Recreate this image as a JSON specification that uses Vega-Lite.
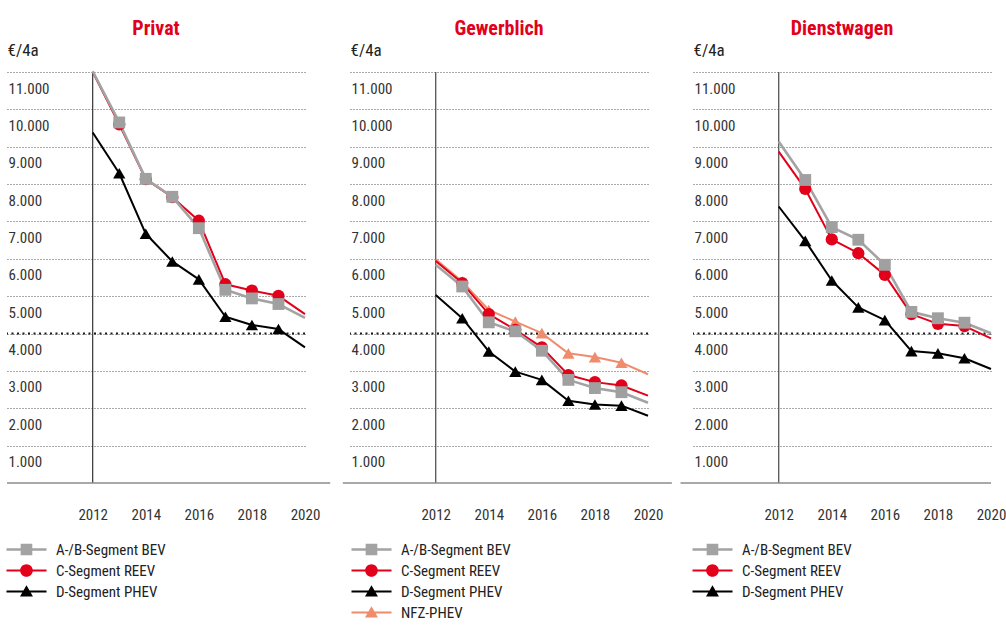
{
  "$schema": "https://vega.github.io/schema/vega-lite/v6.json",
  "padding": {"left": 5, "top": 18, "right": 5, "bottom": 5},
  "background": "white",
  "datasets": {
    "d": [
      {"panel":"Privat","series":"C-Segment REEV","year":2012,"value":11000},{"panel":"Privat","series":"C-Segment REEV","year":2013,"value":9600},{"panel":"Privat","series":"C-Segment REEV","year":2014,"value":8130},{"panel":"Privat","series":"C-Segment REEV","year":2015,"value":7650},{"panel":"Privat","series":"C-Segment REEV","year":2016,"value":7020},{"panel":"Privat","series":"C-Segment REEV","year":2017,"value":5320},{"panel":"Privat","series":"C-Segment REEV","year":2018,"value":5150},{"panel":"Privat","series":"C-Segment REEV","year":2019,"value":5010},{"panel":"Privat","series":"C-Segment REEV","year":2020,"value":4520},
      {"panel":"Privat","series":"A-/B-Segment BEV","year":2012,"value":11020},{"panel":"Privat","series":"A-/B-Segment BEV","year":2013,"value":9650},{"panel":"Privat","series":"A-/B-Segment BEV","year":2014,"value":8140},{"panel":"Privat","series":"A-/B-Segment BEV","year":2015,"value":7660},{"panel":"Privat","series":"A-/B-Segment BEV","year":2016,"value":6820},{"panel":"Privat","series":"A-/B-Segment BEV","year":2017,"value":5170},{"panel":"Privat","series":"A-/B-Segment BEV","year":2018,"value":4940},{"panel":"Privat","series":"A-/B-Segment BEV","year":2019,"value":4790},{"panel":"Privat","series":"A-/B-Segment BEV","year":2020,"value":4420},
      {"panel":"Privat","series":"D-Segment PHEV","year":2012,"value":9380},{"panel":"Privat","series":"D-Segment PHEV","year":2013,"value":8290},{"panel":"Privat","series":"D-Segment PHEV","year":2014,"value":6670},{"panel":"Privat","series":"D-Segment PHEV","year":2015,"value":5930},{"panel":"Privat","series":"D-Segment PHEV","year":2016,"value":5450},{"panel":"Privat","series":"D-Segment PHEV","year":2017,"value":4450},{"panel":"Privat","series":"D-Segment PHEV","year":2018,"value":4230},{"panel":"Privat","series":"D-Segment PHEV","year":2019,"value":4120},{"panel":"Privat","series":"D-Segment PHEV","year":2020,"value":3630},
      {"panel":"Gewerblich","series":"NFZ-PHEV","year":2012,"value":5990},{"panel":"Gewerblich","series":"NFZ-PHEV","year":2013,"value":5390},{"panel":"Gewerblich","series":"NFZ-PHEV","year":2014,"value":4630},{"panel":"Gewerblich","series":"NFZ-PHEV","year":2015,"value":4320},{"panel":"Gewerblich","series":"NFZ-PHEV","year":2016,"value":4010},{"panel":"Gewerblich","series":"NFZ-PHEV","year":2017,"value":3470},{"panel":"Gewerblich","series":"NFZ-PHEV","year":2018,"value":3370},{"panel":"Gewerblich","series":"NFZ-PHEV","year":2019,"value":3220},{"panel":"Gewerblich","series":"NFZ-PHEV","year":2020,"value":2910},
      {"panel":"Gewerblich","series":"C-Segment REEV","year":2012,"value":5940},{"panel":"Gewerblich","series":"C-Segment REEV","year":2013,"value":5350},{"panel":"Gewerblich","series":"C-Segment REEV","year":2014,"value":4520},{"panel":"Gewerblich","series":"C-Segment REEV","year":2015,"value":4100},{"panel":"Gewerblich","series":"C-Segment REEV","year":2016,"value":3630},{"panel":"Gewerblich","series":"C-Segment REEV","year":2017,"value":2890},{"panel":"Gewerblich","series":"C-Segment REEV","year":2018,"value":2700},{"panel":"Gewerblich","series":"C-Segment REEV","year":2019,"value":2610},{"panel":"Gewerblich","series":"C-Segment REEV","year":2020,"value":2340},
      {"panel":"Gewerblich","series":"A-/B-Segment BEV","year":2012,"value":5840},{"panel":"Gewerblich","series":"A-/B-Segment BEV","year":2013,"value":5260},{"panel":"Gewerblich","series":"A-/B-Segment BEV","year":2014,"value":4300},{"panel":"Gewerblich","series":"A-/B-Segment BEV","year":2015,"value":4060},{"panel":"Gewerblich","series":"A-/B-Segment BEV","year":2016,"value":3540},{"panel":"Gewerblich","series":"A-/B-Segment BEV","year":2017,"value":2760},{"panel":"Gewerblich","series":"A-/B-Segment BEV","year":2018,"value":2540},{"panel":"Gewerblich","series":"A-/B-Segment BEV","year":2019,"value":2430},{"panel":"Gewerblich","series":"A-/B-Segment BEV","year":2020,"value":2150},
      {"panel":"Gewerblich","series":"D-Segment PHEV","year":2012,"value":5030},{"panel":"Gewerblich","series":"D-Segment PHEV","year":2013,"value":4410},{"panel":"Gewerblich","series":"D-Segment PHEV","year":2014,"value":3520},{"panel":"Gewerblich","series":"D-Segment PHEV","year":2015,"value":2980},{"panel":"Gewerblich","series":"D-Segment PHEV","year":2016,"value":2760},{"panel":"Gewerblich","series":"D-Segment PHEV","year":2017,"value":2200},{"panel":"Gewerblich","series":"D-Segment PHEV","year":2018,"value":2100},{"panel":"Gewerblich","series":"D-Segment PHEV","year":2019,"value":2070},{"panel":"Gewerblich","series":"D-Segment PHEV","year":2020,"value":1800},
      {"panel":"Dienstwagen","series":"C-Segment REEV","year":2012,"value":8870},{"panel":"Dienstwagen","series":"C-Segment REEV","year":2013,"value":7870},{"panel":"Dienstwagen","series":"C-Segment REEV","year":2014,"value":6520},{"panel":"Dienstwagen","series":"C-Segment REEV","year":2015,"value":6150},{"panel":"Dienstwagen","series":"C-Segment REEV","year":2016,"value":5570},{"panel":"Dienstwagen","series":"C-Segment REEV","year":2017,"value":4520},{"panel":"Dienstwagen","series":"C-Segment REEV","year":2018,"value":4260},{"panel":"Dienstwagen","series":"C-Segment REEV","year":2019,"value":4200},{"panel":"Dienstwagen","series":"C-Segment REEV","year":2020,"value":3870},
      {"panel":"Dienstwagen","series":"A-/B-Segment BEV","year":2012,"value":9140},{"panel":"Dienstwagen","series":"A-/B-Segment BEV","year":2013,"value":8110},{"panel":"Dienstwagen","series":"A-/B-Segment BEV","year":2014,"value":6850},{"panel":"Dienstwagen","series":"A-/B-Segment BEV","year":2015,"value":6510},{"panel":"Dienstwagen","series":"A-/B-Segment BEV","year":2016,"value":5840},{"panel":"Dienstwagen","series":"A-/B-Segment BEV","year":2017,"value":4580},{"panel":"Dienstwagen","series":"A-/B-Segment BEV","year":2018,"value":4410},{"panel":"Dienstwagen","series":"A-/B-Segment BEV","year":2019,"value":4290},{"panel":"Dienstwagen","series":"A-/B-Segment BEV","year":2020,"value":4010},
      {"panel":"Dienstwagen","series":"D-Segment PHEV","year":2012,"value":7400},{"panel":"Dienstwagen","series":"D-Segment PHEV","year":2013,"value":6480},{"panel":"Dienstwagen","series":"D-Segment PHEV","year":2014,"value":5420},{"panel":"Dienstwagen","series":"D-Segment PHEV","year":2015,"value":4700},{"panel":"Dienstwagen","series":"D-Segment PHEV","year":2016,"value":4360},{"panel":"Dienstwagen","series":"D-Segment PHEV","year":2017,"value":3530},{"panel":"Dienstwagen","series":"D-Segment PHEV","year":2018,"value":3470},{"panel":"Dienstwagen","series":"D-Segment PHEV","year":2019,"value":3340},{"panel":"Dienstwagen","series":"D-Segment PHEV","year":2020,"value":3050}
    ]
  },
  "data": {"name": "d"},
  "spacing": 45,
  "bounds": "flush",
  "resolve": {
    "scale": {"x": "independent", "y": "independent", "color": "independent", "shape": "independent"},
    "legend": {"color": "independent", "shape": "independent"}
  },
  "config": {
    "view": {"stroke": null},
    "font": "Roboto Condensed, Roboto, sans-serif",
    "title": {"fontSize": 20, "fontWeight": "bold", "color": "#e2001a", "anchor": "middle", "frame": "group", "offset": 2.5},
    "axisX": {"format": "d", "title": null, "domain": false, "ticks": false, "tickSize": 0, "grid": false, "labelPadding": 24, "labelBaseline": "top", "labelFlush": false, "labelFontSize": 15, "labelColor": "#333", "labelOverlap": false},
    "axisY": {"labelExpr": "floor(datum.value/1000) + '.000'", "titleAngle": 0, "titleAlign": "left", "titleBaseline": "alphabetic", "titleX": 0, "titleY": -17, "titleFontSize": 17, "titleFontWeight": "normal", "titleColor": "#222", "domain": false, "ticks": false, "tickSize": 0, "grid": true, "gridDash": [1, 2], "gridColor": "#555", "gridWidth": 1, "labelAlign": "left", "labelBaseline": "middle", "labelPadding": -1, "labelOffset": 16, "labelFontSize": 15, "labelColor": "#333", "labelOverlap": false},
    "legend": {"orient": "none", "legendY": 470, "title": null, "symbolSize": 144, "symbolOpacity": 1, "symbolStrokeWidth": 0, "labelFontSize": 15, "labelColor": "#222", "labelOffset": 36, "rowPadding": 5}
  },
  "hconcat": [
    {
      "title": {"text": "Privat"},
      "width": 298, "height": 411,
      "transform": [{"filter": "datum.panel === 'Privat'"}],
      "layer": [
        {"data": {"values": [{}]}, "mark": {"type": "rule", "color": "#1a1a1a", "strokeWidth": 2, "strokeDash": [2, 3.5]},
         "encoding": {"y": {"datum": 4000, "type": "quantitative", "scale": {"domain": [0, 11000], "nice": false}}}},
        {"data": {"values": [{}]}, "mark": {"type": "rule", "color": "#222", "strokeWidth": 1.1},
         "encoding": {"x": {"datum": 2012, "type": "quantitative", "scale": {"domain": [2008.77, 2020], "nice": false, "zero": false}},
                      "y": {"datum": 0, "type": "quantitative", "scale": {"domain": [0, 11000], "nice": false}}, "y2": {"datum": 11000}}},
        {"data": {"values": [{}]}, "mark": {"type": "rule", "color": "#8c8c8c", "strokeWidth": 1.6},
         "encoding": {"x": {"datum": 2008.77, "type": "quantitative", "scale": {"domain": [2008.77, 2020], "nice": false, "zero": false}}, "x2": {"datum": 2020.95},
                      "y": {"datum": 0, "type": "quantitative", "scale": {"domain": [0, 11000], "nice": false}}}},
        {"mark": {"type": "line", "strokeJoin": "round"},
         "encoding": {
           "x": {"field": "year", "type": "quantitative", "scale": {"domain": [2008.77, 2020], "nice": false, "zero": false}, "axis": {"title": null, "values": [2012, 2014, 2016, 2018, 2020]}},
           "y": {"field": "value", "type": "quantitative", "scale": {"domain": [0, 11000], "nice": false}, "axis": {"title": "€/4a", "values": [1000, 2000, 3000, 4000, 5000, 6000, 7000, 8000, 9000, 10000, 11000]}},
           "detail": {"field": "series"},
           "color": {"condition": [{"test": "datum.series === 'A-/B-Segment BEV'", "value": "#a3a3a3"}, {"test": "datum.series === 'C-Segment REEV'", "value": "#e2001a"}, {"test": "datum.series === 'NFZ-PHEV'", "value": "#f08c6c"}], "value": "#000000"},
           "strokeWidth": {"condition": {"test": "datum.series === 'A-/B-Segment BEV'", "value": 2.6}, "value": 2}
         }},
        {"transform": [{"filter": "datum.year >= 2013 && datum.year <= 2019 && (datum.series === 'D-Segment PHEV' || datum.series === 'NFZ-PHEV')"}],
         "mark": {"type": "point", "shape": "triangle-up", "filled": true, "size": 150, "opacity": 1},
         "encoding": {"x": {"field": "year", "type": "quantitative"}, "y": {"field": "value", "type": "quantitative"},
                      "color": {"condition": {"test": "datum.series === 'NFZ-PHEV'", "value": "#f08c6c"}, "value": "#000000"}}},
        {"transform": [{"filter": "datum.year >= 2013 && datum.year <= 2019 && datum.series === 'C-Segment REEV'"}],
         "mark": {"type": "point", "shape": "circle", "filled": true, "size": 150, "opacity": 1, "color": "#e2001a"},
         "encoding": {"x": {"field": "year", "type": "quantitative"}, "y": {"field": "value", "type": "quantitative"}}},
        {"transform": [{"filter": "datum.year >= 2013 && datum.year <= 2019 && datum.series === 'A-/B-Segment BEV'"}],
         "mark": {"type": "point", "shape": "square", "filled": true, "size": 140, "opacity": 1, "color": "#a0a0a0"},
         "encoding": {"x": {"field": "year", "type": "quantitative"}, "y": {"field": "value", "type": "quantitative"}}},
        {"mark": {"type": "point", "filled": true, "opacity": 0},
         "encoding": {"x": {"field": "year", "type": "quantitative"}, "y": {"field": "value", "type": "quantitative"},
                      "color": {"field": "series", "type": "nominal", "scale": {"domain": ["A-/B-Segment BEV", "C-Segment REEV", "D-Segment PHEV"], "range": ["#a3a3a3", "#e2001a", "#000000"]}, "legend": {"legendX": -2}},
                      "shape": {"field": "series", "type": "nominal", "scale": {"domain": ["A-/B-Segment BEV", "C-Segment REEV", "D-Segment PHEV"], "range": ["M-1,-0.19H5.67V0.19H-1Z M1.36,-0.97H3.3V0.97H1.36Z", "M-1,-0.17H5.67V0.17H-1Z M3.38,0A1.05,1.05 0 1,1 1.28,0A1.05,1.05 0 1,1 3.38,0Z", "M-1,-0.17H5.67V0.17H-1Z M2.33,-1.05L3.41,0.82H1.25Z"]}, "legend": {"legendX": -2}}}}
      ]
    },
    {
      "title": {"text": "Gewerblich"},
      "width": 298, "height": 411,
      "transform": [{"filter": "datum.panel === 'Gewerblich'"}],
      "layer": [
        {"data": {"values": [{}]}, "mark": {"type": "rule", "color": "#1a1a1a", "strokeWidth": 2, "strokeDash": [2, 3.5]},
         "encoding": {"y": {"datum": 4000, "type": "quantitative", "scale": {"domain": [0, 11000], "nice": false}}}},
        {"data": {"values": [{}]}, "mark": {"type": "rule", "color": "#555", "strokeWidth": 1.3},
         "encoding": {"x": {"datum": 2012, "type": "quantitative", "scale": {"domain": [2008.77, 2020], "nice": false, "zero": false}},
                      "y": {"datum": 0, "type": "quantitative", "scale": {"domain": [0, 11000], "nice": false}}, "y2": {"datum": 11000}}},
        {"data": {"values": [{}]}, "mark": {"type": "rule", "color": "#8c8c8c", "strokeWidth": 1.6},
         "encoding": {"x": {"datum": 2008.5, "type": "quantitative", "scale": {"domain": [2008.77, 2020], "nice": false, "zero": false}}, "x2": {"datum": 2020.9},
                      "y": {"datum": 0, "type": "quantitative", "scale": {"domain": [0, 11000], "nice": false}}}},
        {"mark": {"type": "line", "strokeJoin": "round"},
         "encoding": {
           "x": {"field": "year", "type": "quantitative", "scale": {"domain": [2008.77, 2020], "nice": false, "zero": false}, "axis": {"title": null, "values": [2012, 2014, 2016, 2018, 2020]}},
           "y": {"field": "value", "type": "quantitative", "scale": {"domain": [0, 11000], "nice": false}, "axis": {"title": "€/4a", "values": [1000, 2000, 3000, 4000, 5000, 6000, 7000, 8000, 9000, 10000, 11000]}},
           "detail": {"field": "series"},
           "color": {"condition": [{"test": "datum.series === 'A-/B-Segment BEV'", "value": "#a3a3a3"}, {"test": "datum.series === 'C-Segment REEV'", "value": "#e2001a"}, {"test": "datum.series === 'NFZ-PHEV'", "value": "#f08c6c"}], "value": "#000000"},
           "strokeWidth": {"condition": {"test": "datum.series === 'A-/B-Segment BEV'", "value": 2.6}, "value": 2}
         }},
        {"transform": [{"filter": "datum.year >= 2013 && datum.year <= 2019 && (datum.series === 'D-Segment PHEV' || datum.series === 'NFZ-PHEV')"}],
         "mark": {"type": "point", "shape": "triangle-up", "filled": true, "size": 150, "opacity": 1},
         "encoding": {"x": {"field": "year", "type": "quantitative"}, "y": {"field": "value", "type": "quantitative"},
                      "color": {"condition": {"test": "datum.series === 'NFZ-PHEV'", "value": "#f08c6c"}, "value": "#000000"}}},
        {"transform": [{"filter": "datum.year >= 2013 && datum.year <= 2019 && datum.series === 'C-Segment REEV'"}],
         "mark": {"type": "point", "shape": "circle", "filled": true, "size": 150, "opacity": 1, "color": "#e2001a"},
         "encoding": {"x": {"field": "year", "type": "quantitative"}, "y": {"field": "value", "type": "quantitative"}}},
        {"transform": [{"filter": "datum.year >= 2013 && datum.year <= 2019 && datum.series === 'A-/B-Segment BEV'"}],
         "mark": {"type": "point", "shape": "square", "filled": true, "size": 140, "opacity": 1, "color": "#a0a0a0"},
         "encoding": {"x": {"field": "year", "type": "quantitative"}, "y": {"field": "value", "type": "quantitative"}}},
        {"mark": {"type": "point", "filled": true, "opacity": 0},
         "encoding": {"x": {"field": "year", "type": "quantitative"}, "y": {"field": "value", "type": "quantitative"},
                      "color": {"field": "series", "type": "nominal", "scale": {"domain": ["A-/B-Segment BEV", "C-Segment REEV", "D-Segment PHEV", "NFZ-PHEV"], "range": ["#a3a3a3", "#e2001a", "#000000", "#f08c6c"]}, "legend": {"legendX": 0}},
                      "shape": {"field": "series", "type": "nominal", "scale": {"domain": ["A-/B-Segment BEV", "C-Segment REEV", "D-Segment PHEV", "NFZ-PHEV"], "range": ["M-1,-0.19H5.67V0.19H-1Z M1.36,-0.97H3.3V0.97H1.36Z", "M-1,-0.17H5.67V0.17H-1Z M3.38,0A1.05,1.05 0 1,1 1.28,0A1.05,1.05 0 1,1 3.38,0Z", "M-1,-0.17H5.67V0.17H-1Z M2.33,-1.05L3.41,0.82H1.25Z", "M-1,-0.17H5.67V0.17H-1Z M2.33,-1.05L3.41,0.82H1.25Z"]}, "legend": {"legendX": 0}}}}
      ]
    },
    {
      "title": {"text": "Dienstwagen"},
      "width": 298, "height": 411,
      "transform": [{"filter": "datum.panel === 'Dienstwagen'"}],
      "layer": [
        {"data": {"values": [{}]}, "mark": {"type": "rule", "color": "#1a1a1a", "strokeWidth": 2, "strokeDash": [2, 3.5]},
         "encoding": {"y": {"datum": 4000, "type": "quantitative", "scale": {"domain": [0, 11000], "nice": false}}}},
        {"data": {"values": [{}]}, "mark": {"type": "rule", "color": "#555", "strokeWidth": 1.3},
         "encoding": {"x": {"datum": 2012, "type": "quantitative", "scale": {"domain": [2008.77, 2020], "nice": false, "zero": false}},
                      "y": {"datum": 0, "type": "quantitative", "scale": {"domain": [0, 11000], "nice": false}}, "y2": {"datum": 11000}}},
        {"data": {"values": [{}]}, "mark": {"type": "rule", "color": "#8c8c8c", "strokeWidth": 1.6},
         "encoding": {"x": {"datum": 2008.3, "type": "quantitative", "scale": {"domain": [2008.77, 2020], "nice": false, "zero": false}}, "x2": {"datum": 2020},
                      "y": {"datum": 0, "type": "quantitative", "scale": {"domain": [0, 11000], "nice": false}}}},
        {"mark": {"type": "line", "strokeJoin": "round"},
         "encoding": {
           "x": {"field": "year", "type": "quantitative", "scale": {"domain": [2008.77, 2020], "nice": false, "zero": false}, "axis": {"title": null, "values": [2012, 2014, 2016, 2018, 2020]}},
           "y": {"field": "value", "type": "quantitative", "scale": {"domain": [0, 11000], "nice": false}, "axis": {"title": "€/4a", "values": [1000, 2000, 3000, 4000, 5000, 6000, 7000, 8000, 9000, 10000, 11000]}},
           "detail": {"field": "series"},
           "color": {"condition": [{"test": "datum.series === 'A-/B-Segment BEV'", "value": "#a3a3a3"}, {"test": "datum.series === 'C-Segment REEV'", "value": "#e2001a"}, {"test": "datum.series === 'NFZ-PHEV'", "value": "#f08c6c"}], "value": "#000000"},
           "strokeWidth": {"condition": {"test": "datum.series === 'A-/B-Segment BEV'", "value": 2.6}, "value": 2}
         }},
        {"transform": [{"filter": "datum.year >= 2013 && datum.year <= 2019 && (datum.series === 'D-Segment PHEV' || datum.series === 'NFZ-PHEV')"}],
         "mark": {"type": "point", "shape": "triangle-up", "filled": true, "size": 150, "opacity": 1},
         "encoding": {"x": {"field": "year", "type": "quantitative"}, "y": {"field": "value", "type": "quantitative"},
                      "color": {"condition": {"test": "datum.series === 'NFZ-PHEV'", "value": "#f08c6c"}, "value": "#000000"}}},
        {"transform": [{"filter": "datum.year >= 2013 && datum.year <= 2019 && datum.series === 'C-Segment REEV'"}],
         "mark": {"type": "point", "shape": "circle", "filled": true, "size": 150, "opacity": 1, "color": "#e2001a"},
         "encoding": {"x": {"field": "year", "type": "quantitative"}, "y": {"field": "value", "type": "quantitative"}}},
        {"transform": [{"filter": "datum.year >= 2013 && datum.year <= 2019 && datum.series === 'A-/B-Segment BEV'"}],
         "mark": {"type": "point", "shape": "square", "filled": true, "size": 140, "opacity": 1, "color": "#a0a0a0"},
         "encoding": {"x": {"field": "year", "type": "quantitative"}, "y": {"field": "value", "type": "quantitative"}}},
        {"mark": {"type": "point", "filled": true, "opacity": 0},
         "encoding": {"x": {"field": "year", "type": "quantitative"}, "y": {"field": "value", "type": "quantitative"},
                      "color": {"field": "series", "type": "nominal", "scale": {"domain": ["A-/B-Segment BEV", "C-Segment REEV", "D-Segment PHEV"], "range": ["#a3a3a3", "#e2001a", "#000000"]}, "legend": {"legendX": -2}},
                      "shape": {"field": "series", "type": "nominal", "scale": {"domain": ["A-/B-Segment BEV", "C-Segment REEV", "D-Segment PHEV"], "range": ["M-1,-0.19H5.67V0.19H-1Z M1.36,-0.97H3.3V0.97H1.36Z", "M-1,-0.17H5.67V0.17H-1Z M3.38,0A1.05,1.05 0 1,1 1.28,0A1.05,1.05 0 1,1 3.38,0Z", "M-1,-0.17H5.67V0.17H-1Z M2.33,-1.05L3.41,0.82H1.25Z"]}, "legend": {"legendX": -2}}}}
      ]
    }
  ]
}
